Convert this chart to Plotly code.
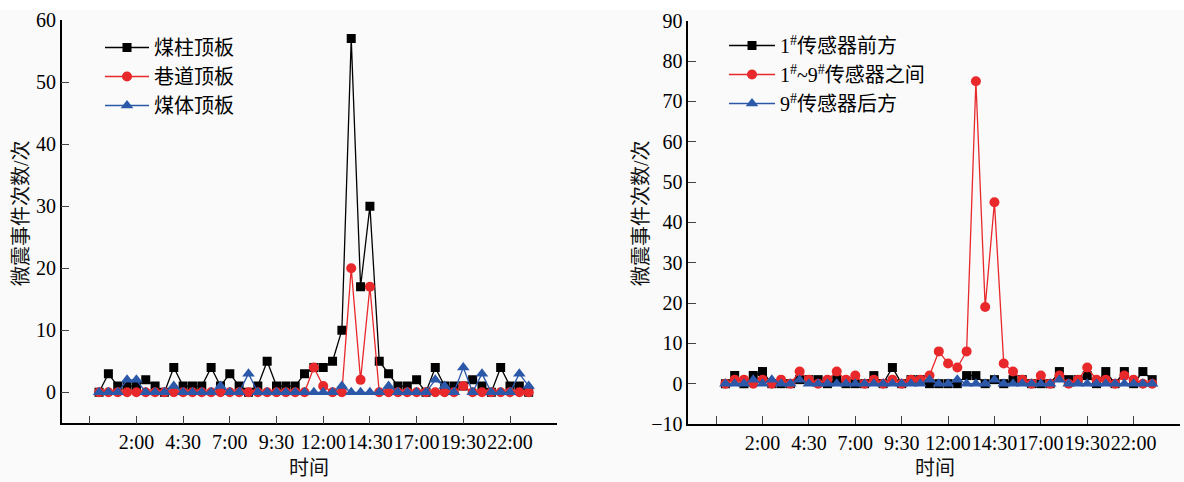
import plotly.graph_objects as go

# time categories (every 30 min)
times = ["0:00","0:30","1:00","1:30","2:00","2:30","3:00","3:30","4:00","4:30",
         "5:00","5:30","6:00","6:30","7:00","7:30","8:00","8:30","9:00","9:30",
         "10:00","10:30","11:00","11:30","12:00","12:30","13:00","13:30","14:00","14:30",
         "15:00","15:30","16:00","16:30","17:00","17:30","18:00","18:30","19:00","19:30",
         "20:00","20:30","21:00","21:30","22:00","22:30","23:00"]
tick_labels = ["2:00","4:30","7:00","9:30","12:00","14:30","17:00","19:30","22:00"]

# left panel
coal_pillar_roof = [0,3,1,1,1,2,1,0,4,1,1,1,4,1,3,1,0,1,5,1,1,1,3,4,4,5,10,57,17,30,
                    5,3,1,1,2,0,4,1,1,1,2,1,0,4,1,1,0]
roadway_roof     = [0,0,0,0,0,0,0,0,0,0,0,0,0,0,0,0,0,0,0,0,0,0,0,4,1,0,0,20,2,17,
                    0,0,0,0,0,0,0,0,0,1,0,0,0,0,0,0,0]
coal_body_roof   = [0,0,0,2,2,0,0,0,1,0,0,0,0,1,0,0,3,0,0,0,0,0,0,0,0,0,1,0,0,0,
                    0,1,0,0,0,0,2,1,0,4,0,3,0,0,0,3,1]

# right panel
front_of_1 = [0,2,0,2,3,0,0,0,1,1,1,0,1,0,0,0,2,0,4,0,1,1,0,0,0,0,2,2,0,1,
              0,1,1,0,0,0,3,1,1,2,0,3,0,3,0,3,1]
between_1_9 = [0,1,1,0,1,0,1,0,3,1,0,1,3,1,2,0,1,0,1,0,1,1,2,8,5,4,8,75,19,45,
               5,3,1,0,2,0,2,0,1,4,1,1,0,2,1,0,0]
behind_9 = [0,0,0,1,0,1,0,0,1,0,0,0,0,0,0,0,0,0,0,0,0,0,1,0,0,1,0,0,0,1,
            0,0,0,0,0,0,1,0,0,0,0,0,0,0,0,0,0]

def to_h(t):
    h, m = t.split(":")
    return int(h) + int(m) / 60

xs = [to_h(t) for t in times]
tv = [-0.5] + [to_h(t) for t in tick_labels] + [24.5]
tt = [""] + tick_labels + [""]

BLACK = "#000000"
RED = "#e8282b"
BLUE = "#2b58a8"
FONT = "Liberation Serif, Noto Sans CJK SC"

fig = go.Figure()

def add(y, name, color, symbol, size, xa, ya, leg):
    fig.add_trace(go.Scatter(
        x=xs, y=y, name=name, mode="lines+markers",
        line=dict(color=color, width=1.3),
        marker=dict(symbol=symbol, size=size, color=color),
        xaxis=xa, yaxis=ya, legend=leg))

add(coal_pillar_roof, "煤柱顶板", BLACK, "square", 9, "x", "y", "legend")
add(roadway_roof, "巷道顶板", RED, "circle", 10, "x", "y", "legend")
add(coal_body_roof, "煤体顶板", BLUE, "triangle-up", 11, "x", "y", "legend")

add(front_of_1, "1<sup>#</sup>传感器前方", BLACK, "square", 9, "x2", "y2", "legend2")
add(between_1_9, "1<sup>#</sup>~9<sup>#</sup>传感器之间", RED, "circle", 10, "x2", "y2", "legend2")
add(behind_9, "9<sup>#</sup>传感器后方", BLUE, "triangle-up", 11, "x2", "y2", "legend2")

W, H = 1184, 482
xaxis_common = dict(range=[-2, 24.5], tickvals=tv, ticktext=tt, ticks="inside", ticklen=8,
                    tickwidth=1.3, showline=True, linecolor="black", linewidth=1.5,
                    showgrid=False, zeroline=False, tickangle=0, automargin=False,
                    tickfont=dict(family=FONT, size=20, color="black"))
yaxis_common = dict(ticks="inside", ticklen=8, tickwidth=1.3, showline=True, linecolor="black",
                    linewidth=1.5, showgrid=False, zeroline=False, automargin=False,
                    tickfont=dict(family=FONT, size=20, color="black"))

title_font = dict(family=FONT, size=20, color="#111")
annotations = [
    dict(text="时间", xref="paper", yref="paper", x=309/W, y=1-468/H, showarrow=False,
         font=title_font, xanchor="center", yanchor="middle"),
    dict(text="时间", xref="paper", yref="paper", x=935/W, y=1-468/H, showarrow=False,
         font=title_font, xanchor="center", yanchor="middle"),
    dict(text="微震事件次数/次", xref="paper", yref="paper", x=21/W, y=1-213/H, showarrow=False,
         font=title_font, textangle=-90, xanchor="center", yanchor="middle"),
    dict(text="微震事件次数/次", xref="paper", yref="paper", x=641/W, y=1-213/H, showarrow=False,
         font=title_font, textangle=-90, xanchor="center", yanchor="middle"),
]

fig.update_layout(
    width=W, height=H,
    margin=dict(l=0, r=0, t=0, b=0),
    paper_bgcolor="#fafafa", plot_bgcolor="#fafafa",
    xaxis=dict(domain=[61.7/W, 556.7/W], anchor="y", **xaxis_common),
    yaxis=dict(domain=[1-423.3/H, 1-20/H], anchor="x", range=[-5, 60], tickvals=[0,10,20,30,40,50,60], **yaxis_common),
    xaxis2=dict(domain=[688.3/W, 1180/W], anchor="y2", **xaxis_common),
    yaxis2=dict(domain=[1-424/H, 1-20.7/H], anchor="x2", range=[-10, 90], tickvals=list(range(-10, 91, 10)), **yaxis_common),
    legend=dict(x=100/W, y=1-28/H, xanchor="left", yanchor="top", bgcolor="rgba(0,0,0,0)",
                font=dict(family=FONT, size=20, color="black"), itemwidth=44, tracegroupgap=0),
    legend2=dict(x=724/W, y=1-26/H, xanchor="left", yanchor="top", bgcolor="rgba(0,0,0,0)",
                 font=dict(family=FONT, size=20, color="black"), itemwidth=46, tracegroupgap=0),
    annotations=annotations,
    shapes=[dict(type="rect", xref="paper", yref="paper", x0=0, x1=1, y0=1-10/H, y1=1,
                 fillcolor="white", line=dict(width=0), layer="below")],
)

fig.write_html("out.html", config={"displayModeBar": False},
               post_script="document.body.style.margin='0';document.body.style.padding='0';")
